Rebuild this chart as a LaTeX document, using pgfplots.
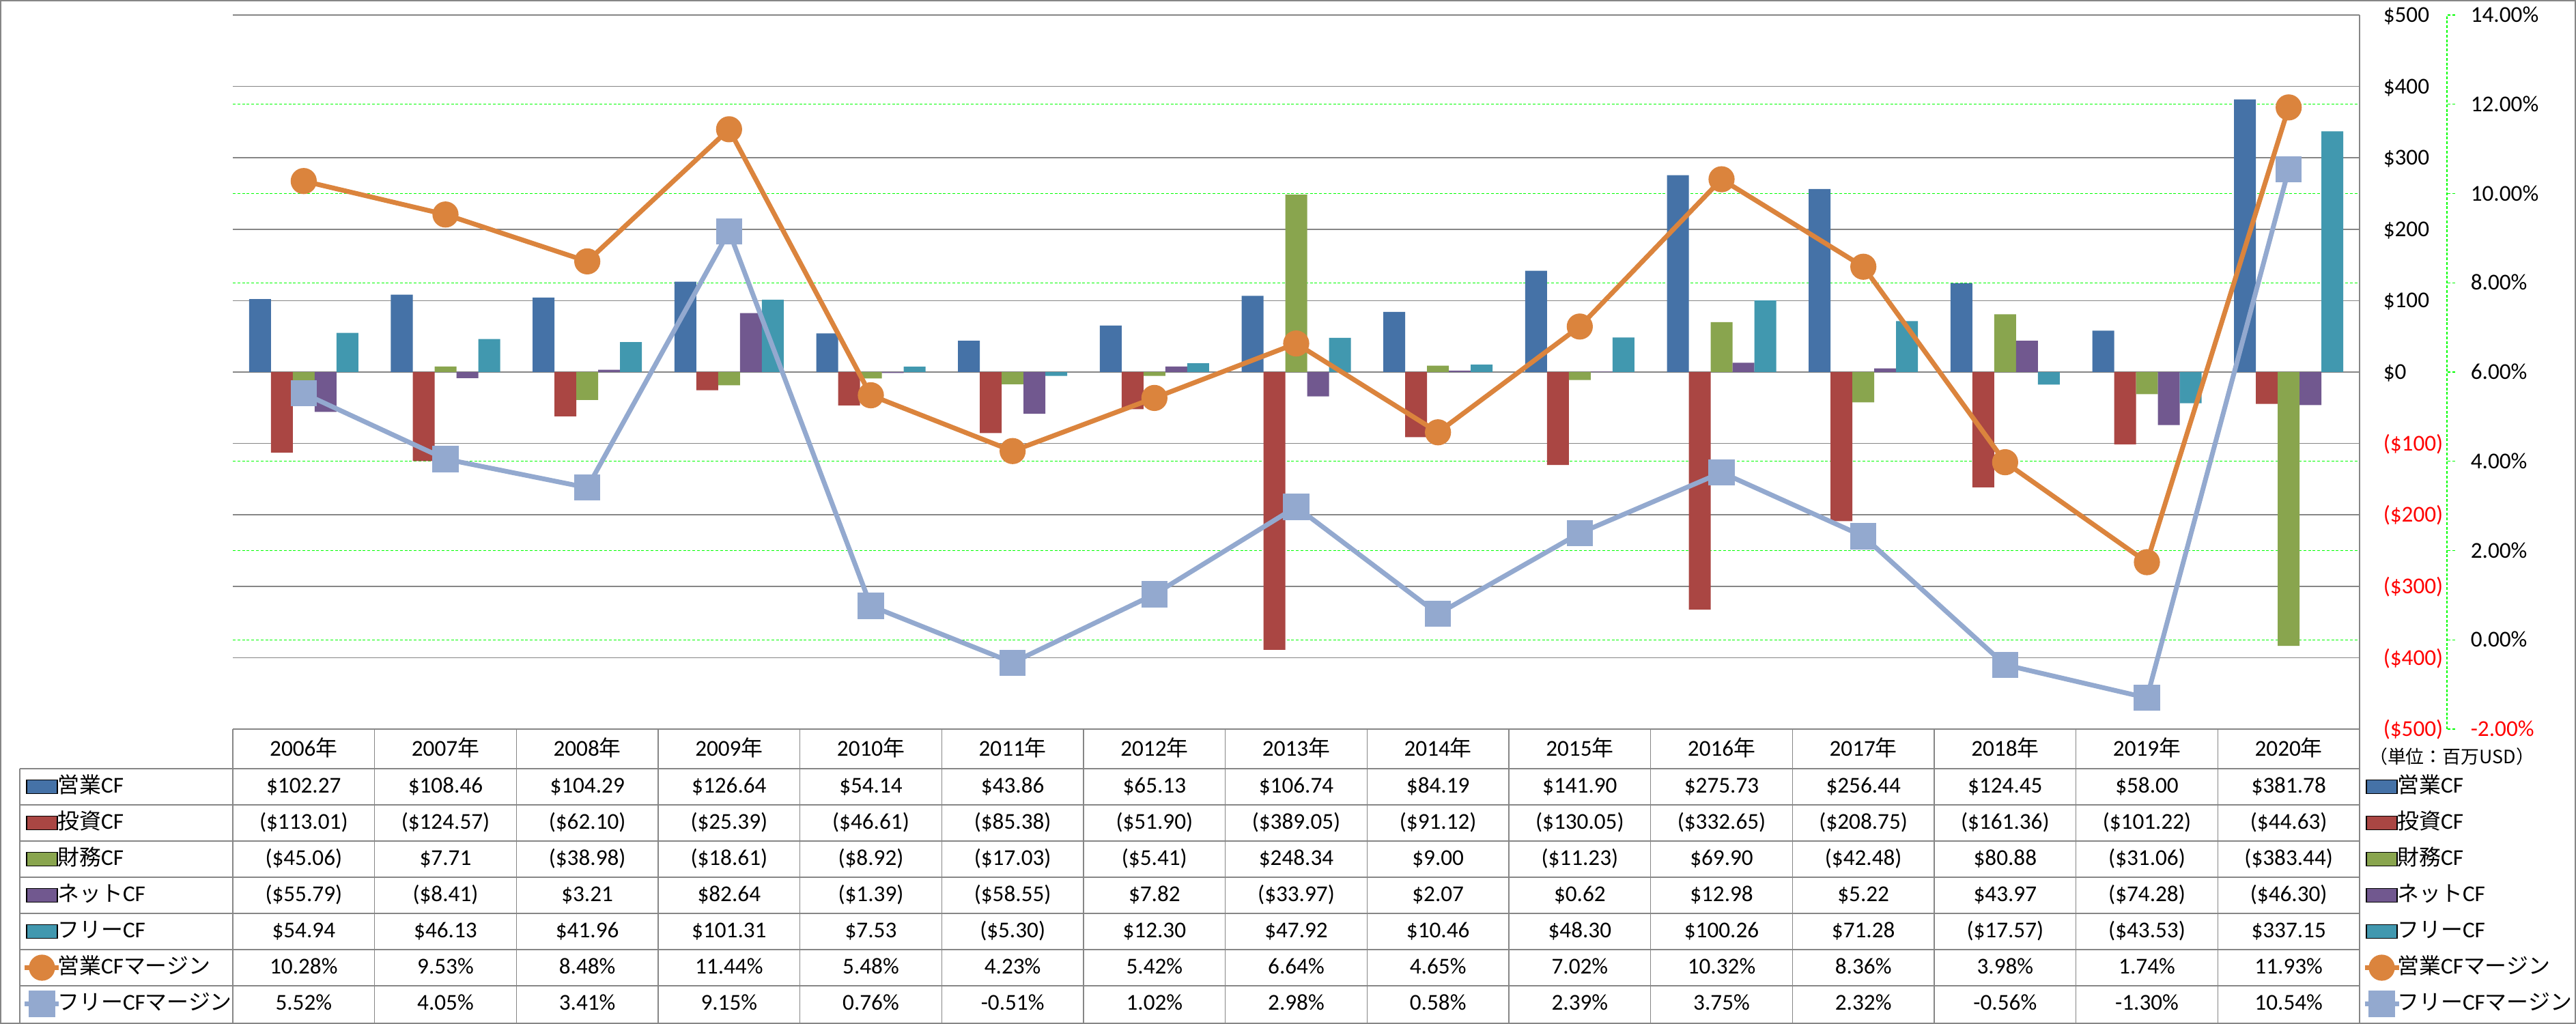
\documentclass[border=0pt]{standalone}
\usepackage{pgfplots}
\pgfplotsset{compat=1.18}
\usepackage{fontspec}
\setmainfont{Carlito}
\newfontfamily\jp[Scale=0.96]{Noto Sans CJK JP}
\definecolor{cOp}{HTML}{4572A7}
\definecolor{cInv}{HTML}{AA4643}
\definecolor{cFin}{HTML}{89A54E}
\definecolor{cNet}{HTML}{71588F}
\definecolor{cFree}{HTML}{4198AF}
\definecolor{cOpM}{HTML}{DB843D}
\definecolor{cFreeM}{HTML}{93A9CF}
\definecolor{gridgray}{HTML}{868686}
\definecolor{xlgreen}{HTML}{00FF00}
\definecolor{xlred}{HTML}{FF0000}
\newcommand\tf{\fontsize{8.3}{10}\selectfont}
\pgfplotsset{
  barleg/.style={legend image code/.code={\fill[##1] (0.6pt,-2.5pt) rectangle (11.85pt,2.5pt);}},
  lineleg/.style={legend image code/.code={\draw[mark repeat=2,mark phase=2,##1] plot coordinates {(0pt,0pt) (6.25pt,0pt) (12.5pt,0pt)};}},
  mylegend/.style={legend cell align=left,
    legend style={draw=none, fill=none, inner sep=0pt, outer sep=0pt, row sep=0pt, column sep=-1.4pt, font=\tf,
      nodes={inner sep=0pt, text height=8.75pt, text depth=4.5pt}}},
  plotbox/.style={at={(85.25pt,-267pt)}, anchor=south west, scale only axis, width=778.75pt, height=261.5pt, xmin=-0.5, xmax=14.5},
  opstyle/.style={cOpM, line width=1.75pt, mark=*, mark size=3.9pt, mark options={draw=none, fill=cOpM}},
  frstyle/.style={cFreeM, line width=1.75pt, mark=square*, mark size=3.9pt, mark options={draw=none, fill=cFreeM, rounded corners=1.2pt}},
}
\newcommand\trow[2]{\foreach \v [count=\i from 0] in {#2}{\pgfmathsetmacro\xx{85.25+(\i+0.5)*51.9167}\pgfmathsetmacro\yy{-290.25-#1*13.25}\node[anchor=base,font=\tf,inner sep=0pt] at (\xx pt,\yy pt) {\v};}}
\begin{document}
\begin{tikzpicture}
\useasboundingbox (0pt,0pt) rectangle (943.25pt,-375pt);
\fill[white] (0pt,0pt) rectangle (943.25pt,-375pt);
% A1: secondary grid (green dashed) + left legend
\begin{axis}[plotbox, ymin=-2, ymax=14, ytick={-2,0,...,14}, xtick=\empty, yticklabels={},
  yticklabel style={text opacity=0},
  axis line style={draw=none}, tick style={draw=none},
  ymajorgrids, major grid style={xlgreen, line width=0.3pt, dash pattern=on 1pt off 0.7pt},
  mylegend, legend style={at={(-0.098876,-0.05545)}, anchor=north west}]
\addlegendimage{fill=cOp, barleg}\addlegendentry{{\jp 営業}CF}
\addlegendimage{fill=cInv, barleg}\addlegendentry{{\jp 投資}CF}
\addlegendimage{fill=cFin, barleg}\addlegendentry{{\jp 財務}CF}
\addlegendimage{fill=cNet, barleg}\addlegendentry{{\jp ネット}CF}
\addlegendimage{fill=cFree, barleg}\addlegendentry{{\jp フリー}CF}
\addlegendimage{opstyle, lineleg}\addlegendentry{{\jp 営業}CF{\jp マージン}}
\addlegendimage{frstyle, lineleg}\addlegendentry{{\jp フリー}CF{\jp マージン}}
\end{axis}
% A2: green secondary axis line with percent labels
\begin{axis}[at={(896pt,-267pt)}, anchor=south east, scale only axis, width=1pt, height=261.5pt,
  xmin=0, xmax=1, ymin=-2, ymax=14, xtick=\empty, axis x line=none, axis y line*=right,
  y axis line style={xlgreen, line width=0.3pt, dash pattern=on 1pt off 0.7pt},
  ytick={-2,0,...,14}, tick align=outside, major tick length=3pt,
  ytick style={xlgreen, line width=0.3pt, dash pattern=on 1pt off 0.7pt},
  yticklabels={\textcolor{xlred}{-2.00\%},0.00\%,2.00\%,4.00\%,6.00\%,8.00\%,10.00\%,12.00\%,14.00\%},
  yticklabel style={anchor=west, inner sep=0pt, xshift=5.5pt, text height=5.3pt, text depth=0pt, font=\tf}]
\end{axis}
% B: bars
\begin{axis}[plotbox, ymin=-500, ymax=500, ytick={-500,-400,...,500}, xtick=\empty,
  axis x line=none, axis y line*=right, y axis line style={gridgray, line width=0.4pt},
  ymajorgrids, major grid style={gridgray, line width=0.4pt}, major tick length=0pt, tick style={draw=none},
  yticklabels={\textcolor{xlred}{(\$500)},\textcolor{xlred}{(\$400)},\textcolor{xlred}{(\$300)},\textcolor{xlred}{(\$200)},\textcolor{xlred}{(\$100)},\$0,\$100,\$200,\$300,\$400,\$500},
  yticklabel style={anchor=west, inner sep=0pt, xshift=8.5pt, text height=5.3pt, text depth=0pt, font=\tf}]
\addplot[ybar, bar width=0.1541, bar shift=-0.3082, fill=cOp, draw=none] coordinates {(0,102.27)(1,108.46)(2,104.29)(3,126.64)(4,54.14)(5,43.86)(6,65.13)(7,106.74)(8,84.19)(9,141.90)(10,275.73)(11,256.44)(12,124.45)(13,58.00)(14,381.78)};
\addplot[ybar, bar width=0.1541, bar shift=-0.1541, fill=cInv, draw=none] coordinates {(0,-113.01)(1,-124.57)(2,-62.10)(3,-25.39)(4,-46.61)(5,-85.38)(6,-51.90)(7,-389.05)(8,-91.12)(9,-130.05)(10,-332.65)(11,-208.75)(12,-161.36)(13,-101.22)(14,-44.63)};
\addplot[ybar, bar width=0.1541, bar shift=0, fill=cFin, draw=none] coordinates {(0,-45.06)(1,7.71)(2,-38.98)(3,-18.61)(4,-8.92)(5,-17.03)(6,-5.41)(7,248.34)(8,9.00)(9,-11.23)(10,69.90)(11,-42.48)(12,80.88)(13,-31.06)(14,-383.44)};
\addplot[ybar, bar width=0.1541, bar shift=0.1541, fill=cNet, draw=none] coordinates {(0,-55.79)(1,-8.41)(2,3.21)(3,82.64)(4,-1.39)(5,-58.55)(6,7.82)(7,-33.97)(8,2.07)(9,0.62)(10,12.98)(11,5.22)(12,43.97)(13,-74.28)(14,-46.30)};
\addplot[ybar, bar width=0.1541, bar shift=0.3082, fill=cFree, draw=none] coordinates {(0,54.94)(1,46.13)(2,41.96)(3,101.31)(4,7.53)(5,-5.30)(6,12.30)(7,47.92)(8,10.46)(9,48.30)(10,100.26)(11,71.28)(12,-17.57)(13,-43.53)(14,337.15)};
\end{axis}
% C: margin lines + right legend
\begin{axis}[plotbox, ymin=-2, ymax=14, hide axis, clip=false,
  mylegend, legend style={at={(1.001284,-0.05545)}, anchor=north west}]
\addlegendimage{fill=cOp, barleg}\addlegendentry{{\jp 営業}CF}
\addlegendimage{fill=cInv, barleg}\addlegendentry{{\jp 投資}CF}
\addlegendimage{fill=cFin, barleg}\addlegendentry{{\jp 財務}CF}
\addlegendimage{fill=cNet, barleg}\addlegendentry{{\jp ネット}CF}
\addlegendimage{fill=cFree, barleg}\addlegendentry{{\jp フリー}CF}
\addplot[opstyle, lineleg] coordinates {(0,10.28)(1,9.53)(2,8.48)(3,11.44)(4,5.48)(5,4.23)(6,5.42)(7,6.64)(8,4.65)(9,7.02)(10,10.32)(11,8.36)(12,3.98)(13,1.74)(14,11.93)};
\addlegendentry{{\jp 営業}CF{\jp マージン}}
\addplot[frstyle, lineleg] coordinates {(0,5.52)(1,4.05)(2,3.41)(3,9.15)(4,0.76)(5,-0.51)(6,1.02)(7,2.98)(8,0.58)(9,2.39)(10,3.75)(11,2.32)(12,-0.56)(13,-1.30)(14,10.54)};
\addlegendentry{{\jp フリー}CF{\jp マージン}}
\end{axis}
% data table grid
\begin{scope}[gridgray, line width=0.35pt]
\draw (85.25pt,-267pt) -- (864pt,-267pt);
\foreach \k in {0,...,6} {\pgfmathsetmacro\yy{-281.5-\k*13.25}\draw (7.25pt,\yy pt) -- (864pt,\yy pt);}
\foreach \i in {0,...,15} {\pgfmathsetmacro\xx{85.25+\i*51.9167}\draw (\xx pt,-267pt) -- (\xx pt,-374.5pt);}
\draw (7.25pt,-281.5pt) -- (7.25pt,-374.5pt);
\end{scope}
\foreach \i in {0,...,14} {\pgfmathsetmacro\xx{85.25+(\i+0.5)*51.9167}\pgfmathtruncatemacro\yr{2006+\i}\node[anchor=base,font=\tf,inner sep=0pt] at (\xx pt,-276.75pt) {\yr{\jp 年}};}
\trow{0}{\$102.27,\$108.46,\$104.29,\$126.64,\$54.14,\$43.86,\$65.13,\$106.74,\$84.19,\$141.90,\$275.73,\$256.44,\$124.45,\$58.00,\$381.78}
\trow{1}{(\$113.01),(\$124.57),(\$62.10),(\$25.39),(\$46.61),(\$85.38),(\$51.90),(\$389.05),(\$91.12),(\$130.05),(\$332.65),(\$208.75),(\$161.36),(\$101.22),(\$44.63)}
\trow{2}{(\$45.06),\$7.71,(\$38.98),(\$18.61),(\$8.92),(\$17.03),(\$5.41),\$248.34,\$9.00,(\$11.23),\$69.90,(\$42.48),\$80.88,(\$31.06),(\$383.44)}
\trow{3}{(\$55.79),(\$8.41),\$3.21,\$82.64,(\$1.39),(\$58.55),\$7.82,(\$33.97),\$2.07,\$0.62,\$12.98,\$5.22,\$43.97,(\$74.28),(\$46.30)}
\trow{4}{\$54.94,\$46.13,\$41.96,\$101.31,\$7.53,(\$5.30),\$12.30,\$47.92,\$10.46,\$48.30,\$100.26,\$71.28,(\$17.57),(\$43.53),\$337.15}
\trow{5}{10.28\%,9.53\%,8.48\%,11.44\%,5.48\%,4.23\%,5.42\%,6.64\%,4.65\%,7.02\%,10.32\%,8.36\%,3.98\%,1.74\%,11.93\%}
\trow{6}{5.52\%,4.05\%,3.41\%,9.15\%,0.76\%,-0.51\%,1.02\%,2.98\%,0.58\%,2.39\%,3.75\%,2.32\%,-0.56\%,-1.30\%,10.54\%}
\node[font=\jp\fontsize{7}{8}\selectfont, inner sep=0pt] at (897.75pt,-277pt) {（単位：百万USD）};
\draw[gridgray, line width=0.5pt] (0.25pt,-0.25pt) rectangle (943pt,-374.75pt);
\end{tikzpicture}
\end{document}
